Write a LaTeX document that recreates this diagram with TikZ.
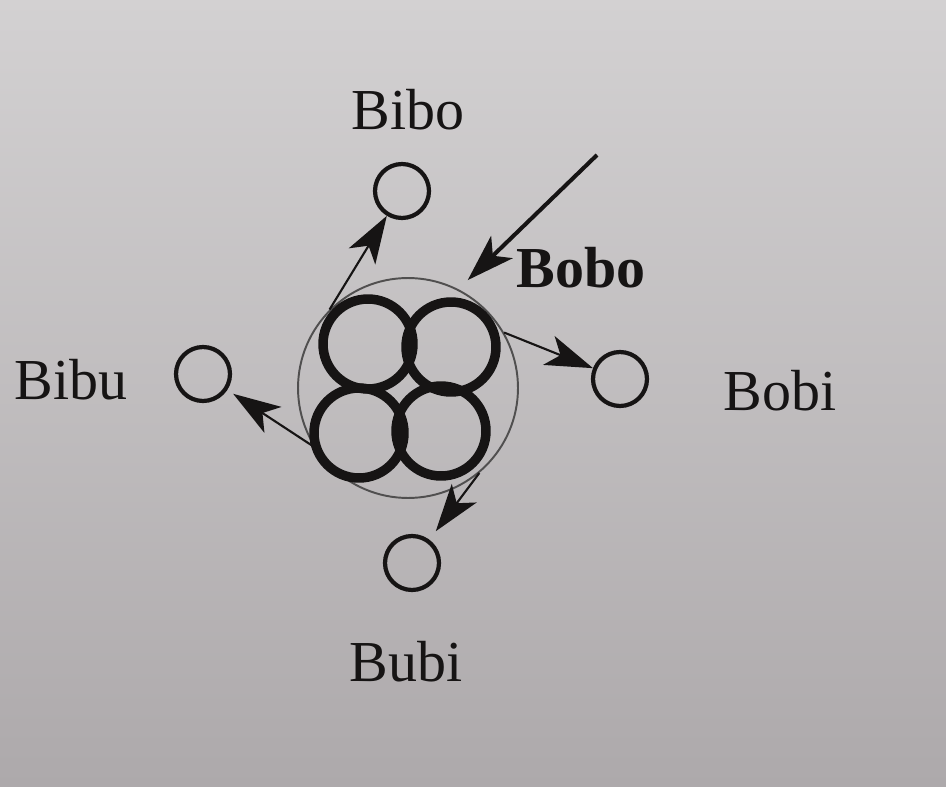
\documentclass[tikz,border=0pt]{standalone}
\usepackage{fontspec}
\setmainfont{Liberation Serif}
\usepackage{tikz}
\usetikzlibrary{arrows.meta,positioning,calc}
\definecolor{paperTop}{HTML}{D3D1D2}
\definecolor{paperBot}{HTML}{ADA9AB}
\definecolor{ink}{HTML}{161414}
\tikzstyle{lab} = [text=ink, font=\fontsize{33}{36}\selectfont, inner sep=0pt]
\tikzstyle{labBold} = [lab, font=\fontsize{33}{36}\selectfont\bfseries]
\tikzstyle{atom} = [draw=ink, circle, line width=2.4pt, minimum size=1.08cm, inner sep=0pt]
\tikzstyle{shell} = [draw=ink!75, circle, line width=1.1pt, minimum size=4.4cm, inner sep=0pt]
\tikzstyle{ring} = [draw=ink, line width=5.4pt]
\tikzstyle{line} = [draw=ink, line width=1.2pt, -{Stealth[length=0.95cm,width=0.62cm,inset=0.25cm]}]
\tikzstyle{lineBold} = [line, line width=2.3pt]

\begin{document}
\begin{tikzpicture}[x=0.02cm,y=-0.02cm]

		% paper
		\useasboundingbox (0,0) rectangle (946,787);
		\fill[top color=paperTop, bottom color=paperBot] (0,0) rectangle (946,787);

		% Draw diagram elements
		\node (big)[shell] at (408,388) {};
		\foreach \dx/\dy in {-40/-44, 43/-41, -49/45, 33/43}
			\draw[ring] ($(big)+(\dx,\dy)$) circle (0.9cm);

		\node (pBibo)[atom] at (402,191) {};
		\node (pBobi)[atom] at (620,379) {};
		\node (pBibu)[atom] at (203,374) {};
		\node (pBubi)[atom] at (412,563) {};

		\path (pBibo)+(6,-81) node (lBibo)[lab]{Bibo};
		\path (pBobi)+(160,12) node (lBobi)[lab]{Bobi};
		\path (pBibu)+(-132,6) node (lBibu)[lab]{Bibu};
		\path (pBubi)+(-6,99) node (lBubi)[lab]{Bubi};
		\path (big)+(173,-120) node (lBobo)[labBold]{Bobo};

		\coordinate (boboIn) at (597,155);

		% Draw arrows between elements
		\path [line] (big.135) -- (pBibo);
		\path [line] (big.30) -- (pBobi);
		\path [line, shorten >=6pt] (big.-50) -- (pBubi);
		\path [line, shorten >=4pt] (big.212) -- (pBibu);
		\path [lineBold, shorten >=0.26cm] (boboIn) -- (big.63);

\end{tikzpicture}
\end{document}
